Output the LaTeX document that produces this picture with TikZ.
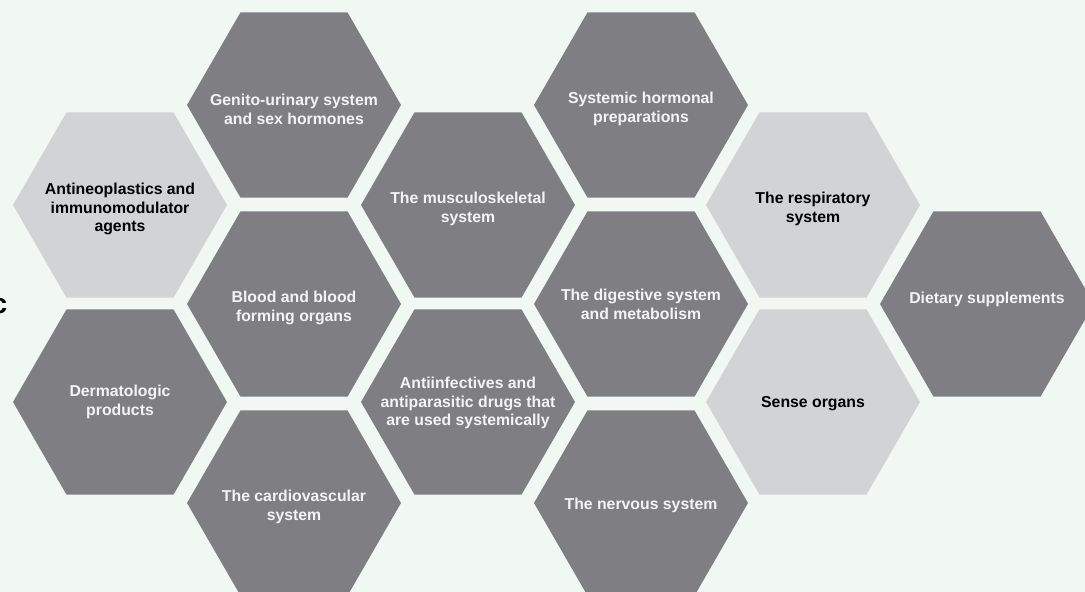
\documentclass[tikz,border=0pt]{standalone}
\usepackage{fontspec}
\setmainfont{Liberation Sans}
\usetikzlibrary{shapes.geometric}
\definecolor{bgc}{HTML}{F1F7F3}
\definecolor{darkhex}{HTML}{7F7F83}
\definecolor{lighthex}{HTML}{D2D3D5}
\definecolor{whitetxt}{HTML}{F4F4F4}
\tikzset{
  hexbase/.style={regular polygon, regular polygon sides=6, minimum size=214pt,
    inner sep=0pt, outer sep=0pt},
  darkcell/.style={hexbase, fill=darkhex},
  lightcell/.style={hexbase, fill=lighthex},
  lbl/.style={align=center, inner sep=0pt, font=\bfseries\fontsize{15.8}{18.8}\selectfont},
  darklbl/.style={lbl, text=whitetxt},
  lightlbl/.style={lbl, text=black}
}
\begin{document}
\begin{tikzpicture}[x=1pt,y=1pt]
\fill[bgc] (0,0) rectangle (1085,-592);
\useasboundingbox (0,0) rectangle (1085,-592);
% column 1
\node[lightcell] (anti) at (120,-205) {};
\node[darkcell] (derm) at (120,-402) {};
% column 2
\node[darkcell] (genito) at (294,-105) {};
\node[darkcell] (blood) at (294,-304) {};
\node[darkcell] (cardio) at (294,-503) {};
% column 3
\node[darkcell] (musc) at (468,-205) {};
\node[darkcell] (infect) at (468,-402) {};
% column 4
\node[darkcell] (hormonal) at (641,-105) {};
\node[darkcell] (digest) at (641,-304) {};
\node[darkcell] (nervous) at (641,-503) {};
% column 5
\node[lightcell] (resp) at (813,-205) {};
\node[lightcell] (sense) at (813,-402) {};
% column 6
\node[darkcell] (diet) at (987,-304) {};
% labels
\node[lightlbl] (antilbl) at ([yshift=-4pt]anti.center) {Antineoplastics and\\immunomodulator\\agents};
\node[darklbl] (dermlbl) at (derm.center) {Dermatologic\\products};
\node[darklbl] (genitolbl) at ([yshift=-4pt]genito.center) {Genito-urinary system\\and sex hormones};
\node[darklbl] (bloodlbl) at ([yshift=-4pt]blood.center) {Blood and blood\\forming organs};
\node[darklbl] (cardiolbl) at ([yshift=-4pt]cardio.center) {The cardiovascular\\system};
\node[darklbl] (musclbl) at ([yshift=-4pt]musc.center) {The musculoskeletal\\system};
\node[darklbl] (infectlbl) at ([yshift=-1pt]infect.center) {Antiinfectives and\\antiparasitic drugs that\\are used systemically};
\node[darklbl] (hormonallbl) at ([yshift=-4pt]hormonal.center) {Systemic hormonal\\preparations};
\node[darklbl] (digestlbl) at (digest.center) {The digestive system\\and metabolism};
\node[darklbl] (nervouslbl) at ([yshift=-2pt]nervous.center) {The nervous system};
\node[lightlbl] (resplbl) at ([yshift=-4pt]resp.center) {The respiratory\\system};
\node[lightlbl] (senselbl) at ([yshift=-2pt]sense.center) {Sense organs};
\node[darklbl] (dietlbl) at ([yshift=5pt]diet.center) {Dietary supplements};
% cut-off letter at left edge
\node[anchor=base east, inner sep=0pt, font=\bfseries\fontsize{28}{28}\selectfont] (cutc) at (7.5,-313) {c};
\end{tikzpicture}
\end{document}
